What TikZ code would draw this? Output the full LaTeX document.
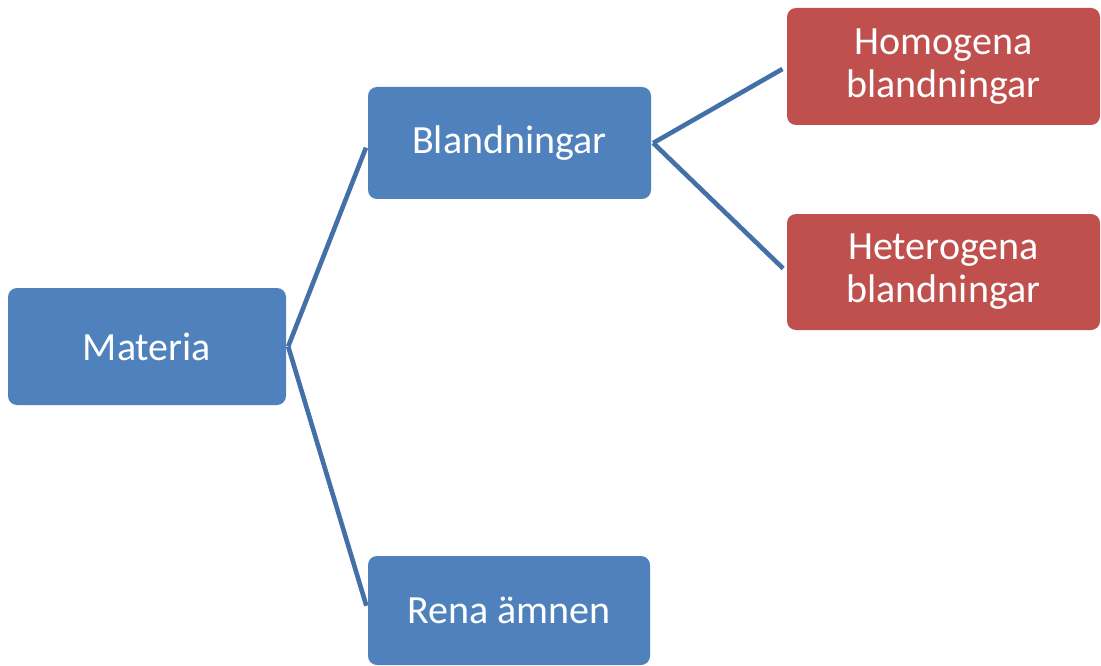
\documentclass[tikz,border=0pt]{standalone}
\usepackage{fontspec}
\setmainfont{Carlito}
\definecolor{boxblue}{HTML}{4F81BD}
\definecolor{boxred}{HTML}{C0504D}
\definecolor{linkblue}{HTML}{4470A8}
\begin{document}
\begin{tikzpicture}[x=1pt,y=-1pt,
  card/.style={rounded corners=9pt, inner sep=0pt, text=white, align=center,
    font=\fontsize{40}{45}\selectfont},
  bluecard/.style={card, fill=boxblue},
  redcard/.style={card, fill=boxred},
  link/.style={draw=linkblue, line width=4.6pt, shorten >=5pt}]
  \useasboundingbox (0,0) rectangle (1101,666);

  % level 0
  \node[bluecard, minimum width=278pt, minimum height=117pt] (materia) at (147,346.5) {Materia};
  % level 1
  \node[bluecard, minimum width=283pt, minimum height=112pt] (bland) at (509.5,143) {Blandningar};
  \node[bluecard, minimum width=282pt, minimum height=109pt] (rena) at (509,610.5) {Rena ämnen};
  % level 2
  \node[redcard, minimum width=313pt, minimum height=117pt] (homo) at (943.5,66.5) {\raisebox{-2pt}{Homogena}\\blandningar};
  \node[redcard, minimum width=313pt, minimum height=116pt] (hetero) at (943.5,272) {\raisebox{-2pt}{Heterogena}\\blandningar};

  % connectors
  \draw[link] ([xshift=2pt]materia.east) -- (bland.west);
  \draw[link] ([xshift=2pt]materia.east) -- (rena.west);
  \draw[link] ([xshift=2pt]bland.east) -- (homo.west);
  \draw[link] ([xshift=2pt]bland.east) -- (hetero.west);
\end{tikzpicture}
\end{document}
